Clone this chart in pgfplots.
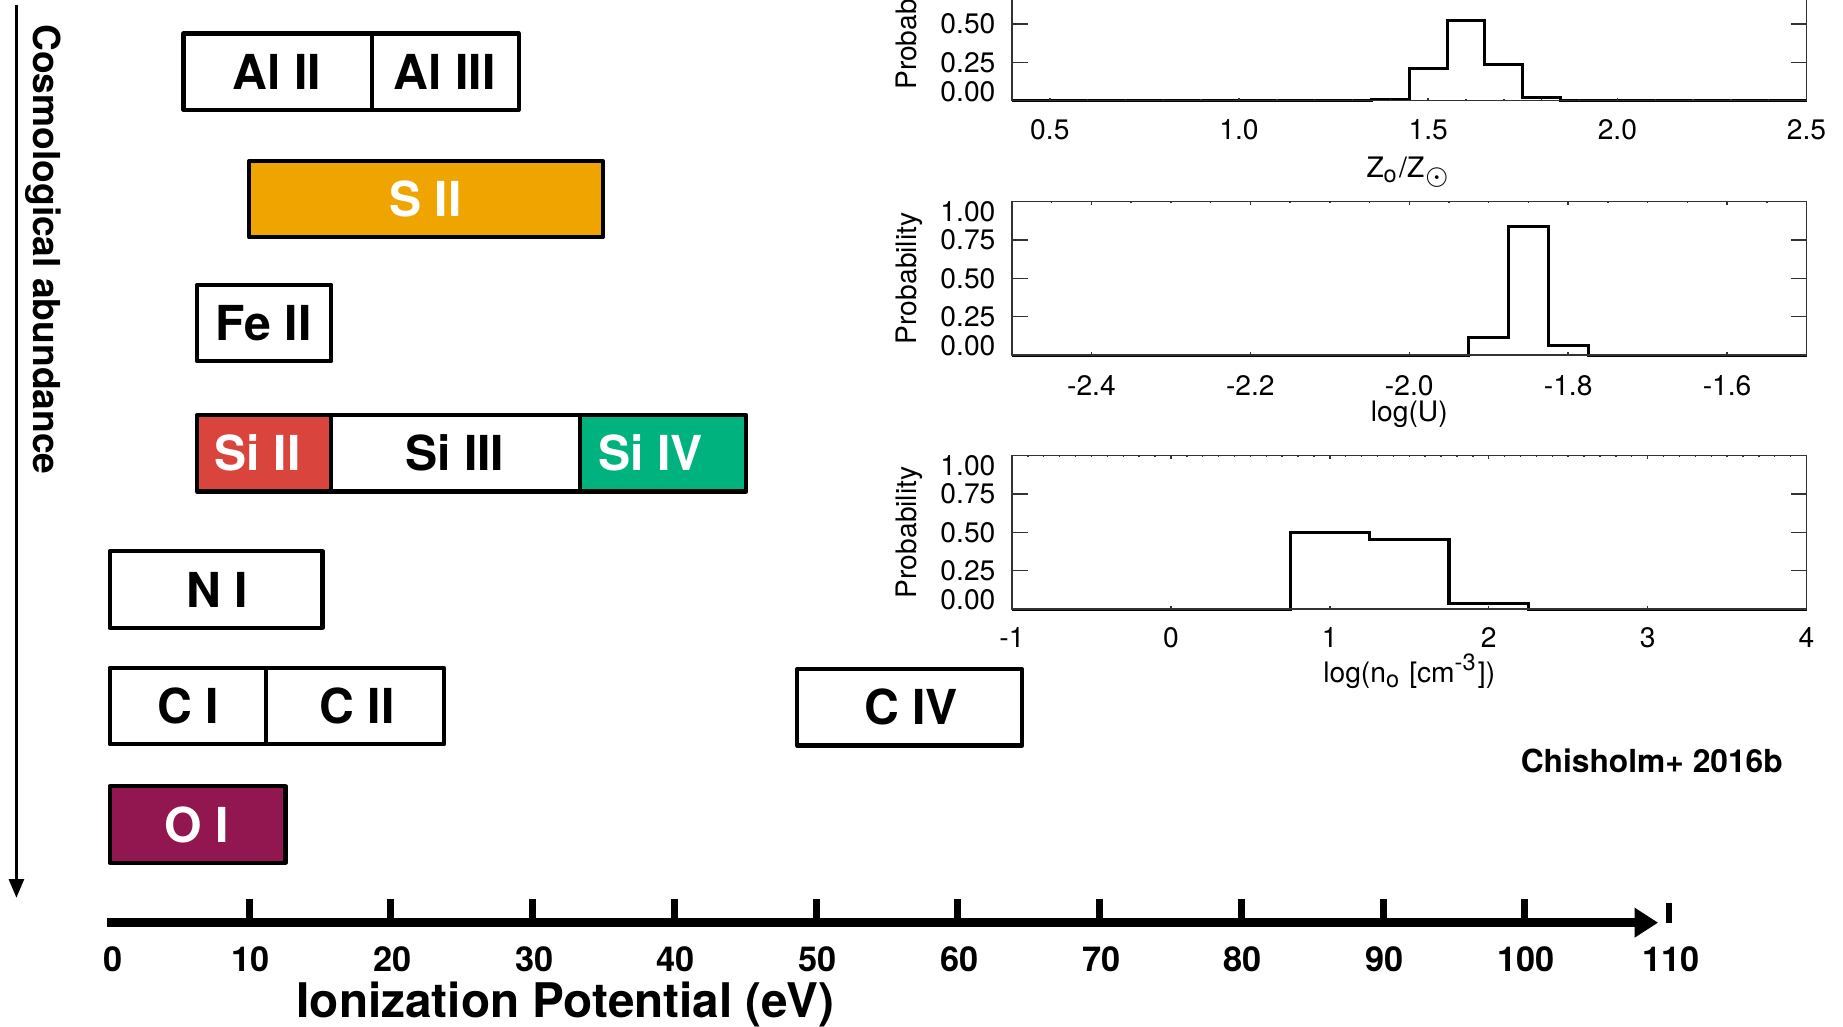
\documentclass[border=0pt]{standalone}
\usepackage{fontspec}
\setmainfont{TeX Gyre Heros}
\usepackage{pgfplots}
\pgfplotsset{compat=1.18}
\usetikzlibrary{arrows.meta}
\definecolor{sorange}{RGB}{240,164,0}
\definecolor{sired}{RGB}{217,68,61}
\definecolor{sigreen}{RGB}{0,178,125}
\definecolor{opurple}{RGB}{146,22,80}
\newcommand\insetfont{\fontsize{6}{7}\selectfont}
\pgfplotsset{
  insetbase/.style={scale only axis, width=169pt, height=32.625pt, anchor=north west,
    ymin=0, ymax=1, clip=false, tick align=inside,
    axis line style={line width=0.3pt, black!80}, tick style={line width=0.3pt, black!80}},
  insetA/.style={insetbase, major tick length=3.4pt, xtick=\empty,
    ytick={0,0.25,0.5,0.75,1},
    yticklabels={\raisebox{2pt}{0.00},0.25,0.50,0.75,\raisebox{-2.2pt}{1.00}},
    yticklabel style={anchor=base east, yshift=-2.1pt, font=\insetfont},
    ylabel={Probability},
    every axis y label/.style={at={(axis description cs:-0.1198,0.5)}, anchor=base, rotate=90, font=\insetfont}},
  insetB/.style={insetbase, major tick length=0.65pt, minor tick length=0.33pt, ytick=\empty,
    xticklabel style={font=\insetfont},
    every axis x label/.style={at={(axis description cs:0.5,0)}, anchor=base, font=\insetfont}},
  hist/.style={const plot, line width=0.65pt, black, mark=none},
  ionbox/.style={draw=black, line width=0.875pt, line join=round, mark=none},
}
\tikzset{
  ionlab/.style={anchor=center, font=\fontsize{10.25}{12}\selectfont\bfseries},
  ticklab/.style={anchor=base, font=\fontsize{7.3}{8.5}\selectfont\bfseries},
}
\begin{document}
\begin{tikzpicture}
\begin{axis}[name=main, at={(0pt,0pt)}, anchor=north west, scale only axis,
  width=392pt, height=218.25pt, xmin=-7.579, xmax=122.44, ymin=0, ymax=873,
  y dir=reverse, hide axis, clip=false]
  % Al
  \addplot[ionbox, fill=white] coordinates {(5.37,28.5) (18.67,28.5) (18.67,93.5) (5.37,93.5)} -- cycle;
  \addplot[ionbox, fill=white] coordinates {(18.67,28.5) (29.01,28.5) (29.01,93.5) (18.67,93.5)} -- cycle;
  % S II
  \addplot[ionbox, fill=sorange] coordinates {(10.0,137) (34.94,137) (34.94,202) (10.0,202)} -- cycle;
  % Fe II
  \addplot[ionbox, fill=white] coordinates {(6.32,242.25) (15.80,242.25) (15.80,307.25) (6.32,307.25)} -- cycle;
  % Si
  \addplot[ionbox, fill=sired] coordinates {(6.32,353.2) (15.77,353.2) (15.77,418.2) (6.32,418.2)} -- cycle;
  \addplot[ionbox, fill=white] coordinates {(15.77,353.2) (33.35,353.2) (33.35,418.2) (15.77,418.2)} -- cycle;
  \addplot[ionbox, fill=sigreen] coordinates {(33.35,353.2) (45.08,353.2) (45.08,418.2) (33.35,418.2)} -- cycle;
  % N I
  \addplot[ionbox, fill=white] coordinates {(0.15,469) (15.17,469) (15.17,534) (0.15,534)} -- cycle;
  % C
  \addplot[ionbox, fill=white] coordinates {(0.15,568.2) (11.2,568.2) (11.2,633.2) (0.15,633.2)} -- cycle;
  \addplot[ionbox, fill=white] coordinates {(11.2,568.2) (23.76,568.2) (23.76,633.2) (11.2,633.2)} -- cycle;
  \addplot[ionbox, fill=white] coordinates {(48.65,569.3) (64.54,569.3) (64.54,634.3) (48.65,634.3)} -- cycle;
  % O I
  \addplot[ionbox, fill=opurple] coordinates {(0.15,669) (12.56,669) (12.56,734) (0.15,734)} -- cycle;

  \node[ionlab] at (axis cs:11.95,61) {Al II};
  \node[ionlab] at (axis cs:23.8,61) {Al III};
  \node[ionlab, white] at (axis cs:22.44,169.5) {S II};
  \node[ionlab] at (axis cs:11.0,274.75) {Fe II};
  \node[ionlab, white] at (axis cs:10.6,385.7) {Si II};
  \node[ionlab] at (axis cs:24.5,385.7) {Si III};
  \node[ionlab, white] at (axis cs:38.34,385.7) {Si IV};
  \node[ionlab] at (axis cs:7.76,501.5) {N I};
  \node[ionlab] at (axis cs:5.71,600.7) {C I};
  \node[ionlab] at (axis cs:17.62,600.7) {C II};
  \node[ionlab] at (axis cs:56.7,601.8) {C IV};
  \node[ionlab, white] at (axis cs:6.31,701.5) {O I};

  % x axis arrow, ticks and labels
  \draw[line width=1.8pt, -{Triangle[length=5pt,width=6pt]}] (axis cs:0,785) -- (axis cs:109.4,785);
  \pgfplotsinvokeforeach{10,20,...,100}{
    \draw[line width=1.5pt] (axis cs:#1,765) -- (axis cs:#1,785);
    \node[ticklab] at (axis cs:#1+0.1,826.5) {#1};
  }
  \draw[line width=1.2pt] (axis cs:110.15,768) -- (axis cs:110.15,785);
  \node[ticklab] at (axis cs:110.3,826.5) {110};
  \node[ticklab] at (axis cs:0.38,826.5) {0};
  \node[anchor=base, font=\fontsize{10.15}{12}\selectfont\bfseries] at (axis cs:32.3,865.5) {Ionization Potential (eV)};
  % y arrow
  \draw[line width=0.75pt, -{Triangle[length=4pt,width=3.1pt]}] (axis cs:-6.42,4) -- (axis cs:-6.42,764);
  \node[rotate=-90, anchor=base west, inner sep=0pt, font=\fontsize{7.9}{9}\selectfont\bfseries] at (axis cs:-5.2,20) {Cosmological abundance};
  \node[anchor=base, font=\fontsize{6.75}{8}\selectfont\bfseries] at (axis cs:108.95,657) {Chisholm+ 2016b};
\end{axis}

% ---- inset 1: metallicity
\begin{axis}[insetA, at={(215.25pt,11.2pt)}, xmin=0.4, xmax=2.5]
  \addplot[hist] coordinates {(0.4,0) (1.35,0.009) (1.45,0.207) (1.55,0.522) (1.65,0.237) (1.75,0.02) (1.85,0.004) (1.95,0) (2.5,0)};
\end{axis}
\begin{axis}[insetB, at={(215.25pt,11.2pt)}, xmin=0.4, xmax=2.5,
  xtick={0.5,1,1.5,2,2.5}, xticklabels={0.5,1.0,1.5,2.0,2.5},
  minor xtick={0.4,0.5,...,2.5}, xticklabel style={yshift=-0.4pt},
  xlabel={Z\textsubscript{o}/Z\textsubscript{$\odot$}}, xlabel style={yshift=-16.3pt}]
\end{axis}

% ---- inset 2: ionization parameter
\begin{axis}[insetA, at={(215.25pt,-42.9pt)}, xmin=-2.5, xmax=-1.5]
  \addplot[hist] coordinates {(-2.5,0) (-1.925,0.113) (-1.875,0.841) (-1.825,0.061) (-1.775,0) (-1.5,0)};
\end{axis}
\begin{axis}[insetB, at={(215.25pt,-42.9pt)}, xmin=-2.5, xmax=-1.5,
  xtick={-2.4,-2.2,-2.0,-1.8,-1.6}, xticklabels={-2.4,-2.2,-2.0,-1.8,-1.6},
  minor xtick={-2.5,-2.45,...,-1.5}, xticklabel style={yshift=-0.9pt},
  xlabel={log(U)}, xlabel style={yshift=-14.1pt}]
\end{axis}

% ---- inset 3: density
\begin{axis}[insetA, at={(215.25pt,-96.925pt)}, xmin=-1, xmax=4]
  \addplot[hist] coordinates {(-1,0) (0.75,0.498) (1.25,0.454) (1.75,0.037) (2.25,0) (4,0)};
\end{axis}
\begin{axis}[insetB, at={(215.25pt,-96.925pt)}, xmin=-1, xmax=4,
  xtick={-1,0,1,2,3,4}, xticklabels={-1,0,1,2,3,4},
  minor xtick={-1,-0.9,...,4}, xticklabel style={yshift=-0.3pt},
  xlabel={log(n\textsubscript{o} [cm\textsuperscript{-3}])}, xlabel style={yshift=-15.6pt}]
\end{axis}

\pgfresetboundingbox
\path[use as bounding box] (0pt,0pt) rectangle (392pt,-218.25pt);
\end{tikzpicture}
\end{document}
